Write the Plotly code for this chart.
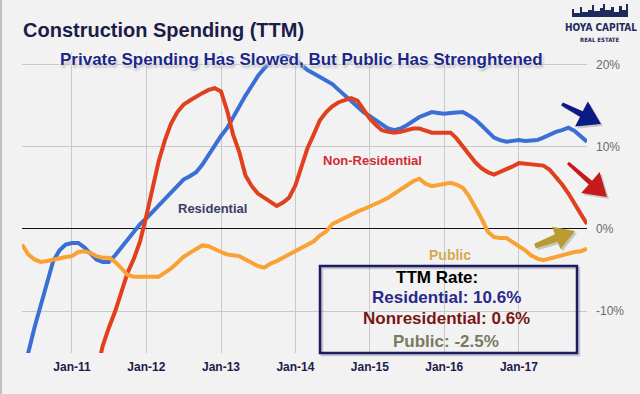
import math
import pandas as pd
import plotly.graph_objects as go

# ---- data (monthly TTM growth, %) ----
months = pd.date_range("2010-05-01", "2017-12-01", freq="MS")

residential = [
    -19.0, -15.0, -12.0, -9.3, -6.4, -3.9, -2.6, -1.9,
    -1.7, -1.7, -2.2, -3.0, -3.7, -4.0, -4.0, -3.2, -2.2, -1.3, -0.3, 0.6,
    1.3, 2.1, 2.9, 3.6, 4.4, 5.2, 6.0, 6.4, 6.9, 7.8, 9.0, 10.3,
    11.3, 12.3, 13.6, 15.0, 16.2, 17.4, 18.6, 19.5, 20.3, 20.8, 21.0, 20.9,
    20.6, 19.9, 19.3, 18.9, 18.5, 18.1, 17.6, 16.9, 16.2, 15.5, 14.8, 14.2,
    13.7, 13.2, 12.7, 12.2, 12.0, 12.2, 12.6, 13.1, 13.6, 13.9, 14.2, 14.1,
    14.0, 14.1, 14.2, 14.2, 13.8, 13.3, 12.6, 11.8, 11.1, 10.8, 10.6, 10.7,
    10.8, 10.7, 10.8, 10.8, 11.1, 11.5, 11.8, 12.0, 12.3, 11.9, 11.3, 10.6,
]

non_residential = [
    None, None, None, None, None, None, None, None,
    None, None, None, None, -17.5, -14.2, -12.0, -10.0, -7.6, -5.3, -3.6, -1.5,
    1.6, 5.0, 8.2, 10.8, 12.8, 14.2, 15.1, 15.6, 16.1, 16.5, 16.9, 17.1,
    16.7, 14.3, 11.5, 9.3, 6.5, 5.2, 4.3, 3.8, 3.4, 2.8, 3.2, 3.8,
    5.3, 7.5, 9.8, 11.5, 13.2, 14.2, 14.9, 15.4, 15.7, 15.9, 15.6, 14.6,
    13.4, 12.6, 12.0, 11.8, 11.7, 11.8, 12.0, 12.2, 12.2, 11.9, 11.7, 11.7,
    11.7, 11.7, 11.0, 10.0, 9.0, 8.1, 7.4, 6.9, 6.6, 6.9, 7.2, 7.6,
    8.0, 7.9, 7.8, 7.8, 7.7, 7.2, 6.4, 5.4, 4.3, 3.0, 1.8, 0.6,
]

public = [
    -1.9, -3.1, -3.7, -4.0, -3.9, -3.7, -3.5, -3.4,
    -3.3, -2.8, -2.7, -2.9, -3.3, -3.5, -3.5, -4.0, -4.8, -5.6, -5.8, -5.8,
    -5.8, -5.9, -5.8, -5.3, -4.8, -4.1, -3.4, -2.9, -2.5, -2.0, -2.1, -2.5,
    -2.8, -3.1, -3.2, -3.3, -3.7, -4.1, -4.5, -4.7, -4.2, -3.9, -3.5, -3.0,
    -2.6, -2.2, -1.9, -1.5, -0.8, -0.3, 0.6, 1.0, 1.4, 1.7, 2.1, 2.4,
    2.7, 3.0, 3.4, 3.8, 4.3, 4.8, 5.3, 5.8, 6.1, 5.5, 5.2, 5.3,
    5.5, 5.6, 5.4, 5.0, 4.0, 2.7, 1.3, -0.3, -1.0, -1.1, -1.1, -1.6,
    -2.1, -2.6, -3.2, -3.6, -3.8, -3.6, -3.4, -3.1, -2.9, -2.8, -2.7, -2.4,
]

x_tick_vals = ["2011-01-01", "2012-01-01", "2013-01-01", "2014-01-01",
               "2015-01-01", "2016-01-01", "2017-01-01"]
x_tick_text = ["Jan-11", "Jan-12", "Jan-13", "Jan-14", "Jan-15", "Jan-16", "Jan-17"]
y_tick_vals = [20, 10, 0, -10]
y_tick_text = ["20%", "10%", "0%", "-10%"]

# ---- layout geometry ----
W, H = 640, 394
L, R, T, B = 22, 53, 52, 41
PW, PH = W - L - R, H - T - B


def px(x):
    return (x - L) / PW


def py(y):
    return (H - B - y) / PH


BG = "#f2f2f2"
BLUE = "#3b6fd6"
RED = "#e0401e"
ORANGE = "#f9a233"

fig = go.Figure()
fig.add_trace(go.Scatter(x=months, y=residential, mode="lines", name="Residential",
                         line=dict(color=BLUE, width=4), connectgaps=False))
fig.add_trace(go.Scatter(x=months, y=non_residential, mode="lines", name="Non-Residential",
                         line=dict(color=RED, width=4), connectgaps=False))
fig.add_trace(go.Scatter(x=months, y=public, mode="lines", name="Public",
                         line=dict(color=ORANGE, width=4), connectgaps=False))

FONT = "Liberation Sans, Arial, Helvetica, sans-serif"
NARROW = "Liberation Sans Narrow, DejaVu Sans Condensed, Arial Narrow, sans-serif"

fig.update_layout(
    width=W, height=H,
    margin=dict(l=L, r=R, t=T, b=B, pad=0),
    paper_bgcolor=BG, plot_bgcolor=BG,
    showlegend=False,
    font=dict(family=FONT),
    xaxis=dict(
        type="date", range=["2010-05-01", "2017-12-01"],
        tickmode="array", tickvals=x_tick_vals, ticktext=x_tick_text,
        showgrid=True, gridcolor="#c9c9c9", gridwidth=1,
        zeroline=False, showline=False, ticks="", ticklabelstandoff=5,
        tickfont=dict(family=FONT, size=12, color="#1c1c48", weight="bold"),
    ),
    yaxis=dict(
        range=[-15.07, 21.5], side="right",
        tickmode="array", tickvals=y_tick_vals, ticktext=y_tick_text,
        showgrid=True, gridcolor="#c9c9c9", gridwidth=1,
        zeroline=True, zerolinecolor="#111111", zerolinewidth=1,
        showline=False, ticks="", ticklabelstandoff=8,
        tickfont=dict(family=FONT, size=12, color="#6a6a6a"),
    ),
)

shapes = []


def arrow_path(x0, y0, x1, y1, sw, hl, hw):
    dx, dy = x1 - x0, y1 - y0
    ln = math.hypot(dx, dy)
    ux, uy = dx / ln, dy / ln
    nx, ny = -uy, ux
    bx, by = x1 - ux * hl, y1 - uy * hl
    pts = [
        (x0 + nx * sw * 0.3, y0 + ny * sw * 0.3),
        (bx + nx * sw / 2, by + ny * sw / 2),
        (bx + nx * hw, by + ny * hw),
        (x1, y1),
        (bx - nx * hw, by - ny * hw),
        (bx - nx * sw / 2, by - ny * sw / 2),
        (x0 - nx * sw * 0.3, y0 - ny * sw * 0.3),
    ]
    return "M " + " L ".join(f"{px(a):.5f},{py(b):.5f}" for a, b in pts) + " Z"


arrows = [
    ((562, 104, 601, 124, 6, 22, 14), "#0b1a85"),
    ((568, 163, 607, 197, 5, 22, 14), "#c41a1a"),
    ((535, 246, 575, 231, 8, 20, 12), "#b99b32"),
]
for (x0, y0, x1, y1, sw, hl, hw), col in arrows:
    shapes.append(dict(type="path", xref="paper", yref="paper",
                       path=arrow_path(x0 + 2, y0 + 2, x1 + 2, y1 + 2, sw, hl, hw),
                       fillcolor="rgba(0,0,0,0.18)", line=dict(width=0), layer="above"))
    shapes.append(dict(type="path", xref="paper", yref="paper",
                       path=arrow_path(x0, y0, x1, y1, sw, hl, hw),
                       fillcolor=col, line=dict(width=0), layer="above"))

# info box (shadow + frame)
shapes.append(dict(type="rect", xref="paper", yref="paper",
                   x0=px(322), x1=px(579), y0=py(268), y1=py(355),
                   line=dict(color="rgba(0,0,0,0.18)", width=2.5), layer="above"))
shapes.append(dict(type="rect", xref="paper", yref="paper",
                   x0=px(320), x1=px(577), y0=py(266), y1=py(353),
                   line=dict(color="#1b1b66", width=2.5), layer="above"))

# left frame line
shapes.append(dict(type="line", xref="paper", yref="paper",
                   x0=px(1), x1=px(1), y0=py(0), y1=py(394),
                   line=dict(color="#b0b0b0", width=1.5)))

# logo skyline
sky = [(572, 17), (572, 9), (574, 9), (574, 13), (580, 13), (580, 7), (582, 7), (582, 12),
       (588, 12), (588, 10), (592, 10), (592, 5), (594, 5), (594, 11), (600, 11), (600, 8),
       (603, 8), (603, 4), (605, 4), (605, 10), (611, 10), (611, 7), (614, 7), (614, 12),
       (619, 12), (619, 6), (622, 6), (622, 10), (626, 10), (626, 4), (628, 4), (628, 17)]
shapes.append(dict(type="path", xref="paper", yref="paper",
                   path="M " + " L ".join(f"{px(a):.5f},{py(b):.5f}" for a, b in sky) + " Z",
                   fillcolor="#1f2a5c", line=dict(width=0)))

fig.update_layout(shapes=shapes)

ann = []


def text(x, y, s, size, color, xanchor="center", bold=True, family=FONT, shadow=None):
    f = dict(family=family, size=size, color=color, weight="bold" if bold else "normal")
    if shadow:
        f["shadow"] = shadow
    ann.append(dict(x=px(x), y=py(y), xref="paper", yref="paper", text=s,
                    showarrow=False, xanchor=xanchor, yanchor="middle", font=f))


text(21, 30, "Construction Spending (TTM)", 20, "#1c1c48", xanchor="left")
text(301, 59, "Private Spending Has Slowed, But Public Has Strenghtened", 17, "#1b2788",
     shadow="0px 0px 2px #ffffff, 0px 0px 3px #ffffff, 0px 0px 4px #ffffff, 1px 2px 3px #8a8a8a")
text(212, 208, "Residential", 13, "#3c3c66")
text(372, 160, "Non-Residential", 13, "#d22a35")
text(450, 255, "Public", 14, "#d4aa52")
text(437, 277, "TTM Rate:", 17, "#000000")
text(446, 297, "Residential: 10.6%", 17, "#29298a")
text(447, 318, "Nonresidential: 0.6%", 17, "#7a1616")
text(446, 341, "Public: -2.5%", 17, "#7a7a60")
text(601, 28, "HOYA CAPITAL", 10, "#1f2a5c", family=NARROW)
text(600, 40, "REAL ESTATE", 6, "#1f2a5c", family=NARROW)

fig.update_layout(annotations=ann)

fig.write_html("out.html", config={"displayModeBar": False},
               post_script="document.body.style.margin='0';")
